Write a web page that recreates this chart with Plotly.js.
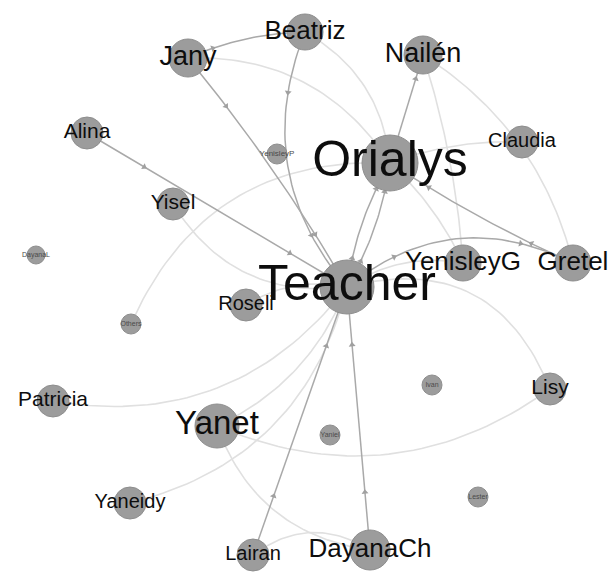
<!DOCTYPE html>
<html>
<head>
<meta charset="utf-8">
<script src="https://cdn.plot.ly/plotly-3.0.1.min.js"></script>
<style>html,body{margin:0;padding:0;background:#fff;}#chart{width:614px;height:572px;}</style>
</head>
<body>
<div id="chart"></div>
<script>
// ---- Data ----
const nodeNames = ['Teacher','Orialys','Beatriz','Jany','Nailén','Claudia','Alina','Yisel','YenisleyP','DayanaL','Others','Roseli','YenisleyG','Gretel','Patricia','Yanet','Lisy','Ivan','Yaniel','Lester','Yaneidy','Lairan','DayanaCh'];
const nodeX = [347,390,305,188,423,522,87,173,277,36,131,246,463,573,53,217,550,432,330,478,130,253,370];
const nodeY = [287,163,32,58,55,142,133,204,154,255,324,305,263,263,401,426,389,385,435,497,503,555,550];
const nodeWeight = [27,28,18,19,19,16,16,16,10,9,10,16,18,18,16,22,16,10,10,10,16,16,20];
const labelSize = [50,50,26,27,27,20,21,21,8,7,7,20,26,26,21,33,21,7,7,7,20,20,26];

const edgeFrom = ['Jany','Beatriz','Alina','Orialys','Gretel','Teacher','Teacher','Lairan','DayanaCh','Teacher','Jany',
                  'Jany','Beatriz','Nailén','Nailén','Orialys','Orialys','Others','Yisel','Roseli','Patricia','Yanet','Yaneidy','Yanet','Teacher','Yanet','Lairan','Teacher'];
const edgeTo   = ['Teacher','Teacher','Teacher','Nailén','Orialys','Orialys','Orialys','Teacher','Teacher','Gretel','Beatriz',
                  'Orialys','Orialys','Gretel','YenisleyG','Claudia','YenisleyG','Orialys','Teacher','Teacher','Teacher','Teacher','Teacher','Lisy','Lisy','DayanaCh','DayanaCh','YenisleyG'];
const edgeStrong = [1,1,1,1,1,1,1,1,1,1,1, 0,0,0,0,0,0,0,0,0,0,0,0,0,0,0,0,0];
const edgeBend = [0.02,-0.15,0,0,0.02,0.05,-0.05,0,0,0.16,0.05,
                  0.14,0.13,0.1,0.03,0.05,0.05,0.17,-0.16,0.1,-0.15,-0.1,-0.15,-0.14,0.22,-0.15,0.17,0.1];

// ---- Build ----
const idx = {}; nodeNames.forEach((n,i)=>idx[n]=i);
function bez(i){
  const a=idx[edgeFrom[i]], b=idx[edgeTo[i]];
  const x0=nodeX[a], y0=nodeY[a], x1=nodeX[b], y1=nodeY[b];
  const dx=x1-x0, dy=y1-y0, L=Math.hypot(dx,dy);
  const nx=dy/L, ny=-dx/L;
  const cx=(x0+x1)/2+2*edgeBend[i]*L*nx, cy=(y0+y1)/2+2*edgeBend[i]*L*ny;
  return t=>{const u=1-t;return [u*u*x0+2*u*t*cx+t*t*x1, u*u*y0+2*u*t*cy+t*t*y1,
     2*u*(cx-x0)+2*t*(x1-cx), 2*u*(cy-y0)+2*t*(y1-cy)];};
}
const lx=[],ly=[],dxs=[],dys=[],ax=[],ay=[],aa=[];
for(let i=0;i<edgeFrom.length;i++){
  const f=bez(i);
  const X=edgeStrong[i]?dxs:lx, Y=edgeStrong[i]?dys:ly;
  for(let k=0;k<=40;k++){const p=f(k/40);X.push(p[0]);Y.push(p[1]);}
  X.push(null);Y.push(null);
  if(edgeStrong[i]){
    [0.22,0.78].forEach(t=>{const p=f(t);ax.push(p[0]);ay.push(p[1]);aa.push(Math.atan2(p[2],-p[3])*180/Math.PI);});
  }
}
const traces=[
 {x:lx,y:ly,mode:'lines',line:{color:'#e0e0e0',width:1.6},hoverinfo:'skip',type:'scatter'},
 {x:dxs,y:dys,mode:'lines',line:{color:'#a9a9a9',width:1.5},hoverinfo:'skip',type:'scatter'},
 {x:ax,y:ay,mode:'markers',marker:{symbol:'triangle-up',size:6,color:'#a0a0a0',angle:aa},hoverinfo:'skip',type:'scatter'},
 {x:nodeX,y:nodeY,mode:'markers+text',text:nodeNames,textposition:'middle center',cliponaxis:false,
  marker:{size:nodeWeight.map(r=>2*r),color:'#9c9c9c',line:{color:'#8e8e8e',width:1},opacity:1},
  textfont:{family:'Liberation Sans, Arial, sans-serif',size:labelSize,color:labelSize.map(s=>s<10?'#4a4a4a':'#0d0d0d')},
  hoverinfo:'text',type:'scatter'}
];
const layout={width:614,height:572,margin:{l:0,r:0,t:0,b:0},showlegend:false,
 paper_bgcolor:'#fff',plot_bgcolor:'#fff',
 xaxis:{range:[0,614],visible:false,fixedrange:true},
 yaxis:{range:[572,0],visible:false,fixedrange:true}};
Plotly.newPlot('chart',traces,layout,{displayModeBar:false,staticPlot:true});
</script>
</body>
</html>
